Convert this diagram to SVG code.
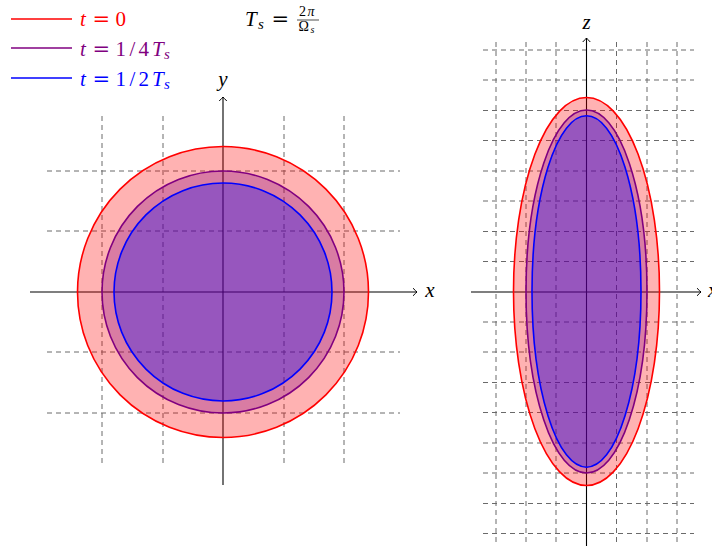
<svg xmlns="http://www.w3.org/2000/svg" width="712" height="550" viewBox="0 0 712 550">
<defs>
<style>
.grid{stroke:#6a6a6a;stroke-width:1;stroke-dasharray:5 4;fill:none}
.axis{stroke:#000;stroke-width:1.1;fill:none}
.m{font-family:"Liberation Serif","DejaVu Serif",serif;font-size:21px}
.i{font-style:italic}
.eq{font-family:"DejaVu Serif",serif;font-style:normal}
.sub{font-size:15px;font-style:italic}
.fr{fill:#ff0000;fill-opacity:0.3;stroke:none}
.fp{fill:#800080;fill-opacity:0.3;stroke:none}
.fb{fill:#0000ff;fill-opacity:0.3;stroke:none}
.sr{fill:none;stroke:#ff0000;stroke-width:1.6}
.sp{fill:none;stroke:#800080;stroke-width:1.6}
.sb{fill:none;stroke:#0000ff;stroke-width:1.6}
</style>
<marker id="arr" markerUnits="userSpaceOnUse" markerWidth="12" markerHeight="12" viewBox="-6 -6 12 12" refX="0" refY="0" orient="auto">
<path d="M-4,-3.8 Q-1,-0.8 0,0 Q-1,0.8 -4,3.8" fill="none" stroke="#000" stroke-width="1"/>
</marker>
</defs>

<g id="legend">
<line x1="11" y1="19" x2="72" y2="19" class="sr"/>
<text class="m" y="26" fill="#ff0000"><tspan x="80" class="i">t</tspan><tspan x="92.5" class="eq">=</tspan><tspan x="115.5">0</tspan></text>
<line x1="11" y1="48" x2="72" y2="48" class="sp"/>
<text class="m" y="55.5" fill="#800080"><tspan x="80" class="i">t</tspan><tspan x="92.5" class="eq">=</tspan><tspan x="115.5">1</tspan><tspan x="129.5">/</tspan><tspan x="138.5">4</tspan><tspan x="152" class="i">T</tspan><tspan class="sub" x="164" dy="3">s</tspan></text>
<line x1="11" y1="78" x2="72" y2="78" class="sb"/>
<text class="m" y="85.5" fill="#0000ff"><tspan x="80" class="i">t</tspan><tspan x="92.5" class="eq">=</tspan><tspan x="115.5">1</tspan><tspan x="129.5">/</tspan><tspan x="138.5">2</tspan><tspan x="152" class="i">T</tspan><tspan class="sub" x="164" dy="3">s</tspan></text>
</g>

<g id="formula">
<text class="m" y="25.5"><tspan x="245" class="i">T</tspan><tspan class="sub" x="258" dy="3">s</tspan><tspan x="271.5" dy="-3" class="eq">=</tspan></text>
<text font-family="Liberation Serif, DejaVu Serif, serif" font-size="14" y="15.5"><tspan x="299">2</tspan><tspan x="307.5" font-style="italic">π</tspan></text>
<line x1="297" y1="20" x2="319" y2="20" stroke="#000" stroke-width="0.7"/>
<text font-family="Liberation Serif, DejaVu Serif, serif" font-size="14" y="31"><tspan x="298.5">Ω</tspan><tspan x="310.5" font-size="10" font-style="italic" dy="1.5">s</tspan></text>
</g>

<g id="left-plot">
<g id="left-grid" class="grid">
<line x1="102" y1="116" x2="102" y2="467"/>
<line x1="163" y1="116" x2="163" y2="467"/>
<line x1="284" y1="116" x2="284" y2="467"/>
<line x1="344" y1="116" x2="344" y2="467"/>
<line x1="47" y1="171" x2="400" y2="171"/>
<line x1="47" y1="231" x2="400" y2="231"/>
<line x1="47" y1="352" x2="400" y2="352"/>
<line x1="47" y1="413" x2="400" y2="413"/>
</g>
<g id="left-axes">
<line x1="30" y1="292" x2="417" y2="292" class="axis" marker-end="url(#arr)"/>
<line x1="223" y1="485" x2="223" y2="97" class="axis" marker-end="url(#arr)"/>
<text class="m i" x="430" y="297" text-anchor="middle">x</text>
<text class="m i" x="223" y="86" text-anchor="middle">y</text>
</g>
<g id="left-t0"><circle cx="223" cy="292" r="145.5" class="fr"/></g>
<g id="left-t14"><circle cx="223" cy="292" r="121" class="fp"/></g>
<g id="left-t12"><circle cx="223" cy="292" r="109" class="fb"/></g>
<circle cx="223" cy="292" r="145.5" class="sr"/>
<circle cx="223" cy="292" r="121" class="sp"/>
<circle cx="223" cy="292" r="109" class="sb"/>
</g>

<g id="right-plot">
<g id="right-grid" class="grid">
<line x1="496" y1="42" x2="496" y2="546"/>
<line x1="526" y1="42" x2="526" y2="546"/>
<line x1="556" y1="42" x2="556" y2="546"/>
<line x1="616.5" y1="42" x2="616.5" y2="546"/>
<line x1="647" y1="42" x2="647" y2="546"/>
<line x1="677" y1="42" x2="677" y2="546"/>
<line x1="483" y1="50" x2="694" y2="50"/>
<line x1="483" y1="80" x2="694" y2="80"/>
<line x1="483" y1="110.5" x2="694" y2="110.5"/>
<line x1="483" y1="140.5" x2="694" y2="140.5"/>
<line x1="483" y1="171" x2="694" y2="171"/>
<line x1="483" y1="201" x2="694" y2="201"/>
<line x1="483" y1="231.5" x2="694" y2="231.5"/>
<line x1="483" y1="261.5" x2="694" y2="261.5"/>
<line x1="483" y1="322" x2="694" y2="322"/>
<line x1="483" y1="352" x2="694" y2="352"/>
<line x1="483" y1="382.5" x2="694" y2="382.5"/>
<line x1="483" y1="412.5" x2="694" y2="412.5"/>
<line x1="483" y1="443" x2="694" y2="443"/>
<line x1="483" y1="473" x2="694" y2="473"/>
<line x1="483" y1="503.5" x2="694" y2="503.5"/>
<line x1="483" y1="533.5" x2="694" y2="533.5"/>
</g>
<g id="right-axes">
<line x1="471" y1="292" x2="701" y2="292" class="axis" marker-end="url(#arr)"/>
<line x1="586.5" y1="546" x2="586.5" y2="38" class="axis" marker-end="url(#arr)"/>
<text class="m i" x="708" y="297">x</text>
<text class="m i" x="586.5" y="29" text-anchor="middle">z</text>
</g>
<g id="right-t0"><ellipse cx="586.5" cy="291.5" rx="73" ry="194" class="fr"/></g>
<g id="right-t14"><ellipse cx="586.5" cy="291.5" rx="60.5" ry="181.5" class="fp"/></g>
<g id="right-t12"><ellipse cx="586.5" cy="291.5" rx="54.5" ry="175.7" class="fb"/></g>
<ellipse cx="586.5" cy="291.5" rx="73" ry="194" class="sr"/>
<ellipse cx="586.5" cy="291.5" rx="60.5" ry="181.5" class="sp"/>
<ellipse cx="586.5" cy="291.5" rx="54.5" ry="175.7" class="sb"/>
</g>
</svg>
